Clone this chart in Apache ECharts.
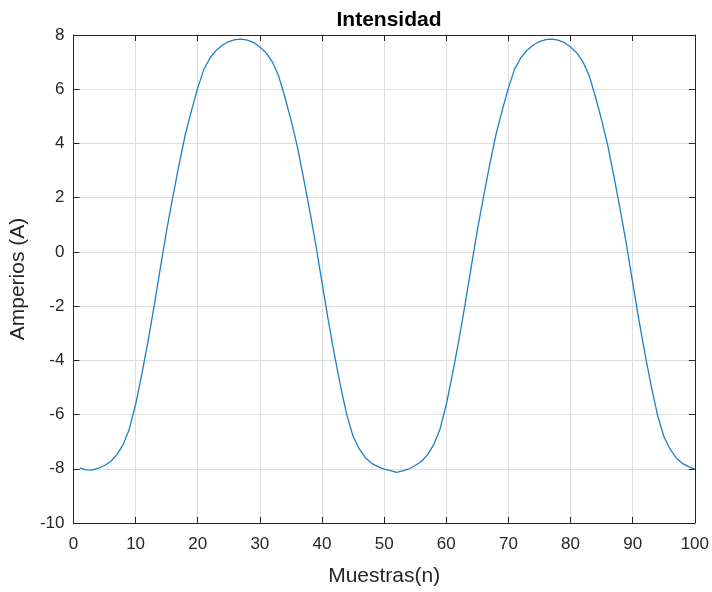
<!DOCTYPE html>
<html>
<head>
<meta charset="utf-8">
<title>Intensidad</title>
<script src="https://cdn.jsdelivr.net/npm/echarts@6/dist/echarts.min.js"></script>
<style>
  html, body { margin: 0; padding: 0; background: #fff; }
  #chart { width: 712px; height: 592px; }
</style>
</head>
<body>
<div id="chart"></div>
<script>
// muestras n = 1..100
const muestras = [
  1, 2, 3, 4, 5, 6, 7, 8, 9, 10, 11, 12, 13, 14, 15, 16, 17, 18, 19, 20,
  21, 22, 23, 24, 25, 26, 27, 28, 29, 30, 31, 32, 33, 34, 35, 36, 37, 38, 39, 40,
  41, 42, 43, 44, 45, 46, 47, 48, 49, 50, 51, 52, 53, 54, 55, 56, 57, 58, 59, 60,
  61, 62, 63, 64, 65, 66, 67, 68, 69, 70, 71, 72, 73, 74, 75, 76, 77, 78, 79, 80,
  81, 82, 83, 84, 85, 86, 87, 88, 89, 90, 91, 92, 93, 94, 95, 96, 97, 98, 99, 100
];
// corriente en amperios
const amperios = [
  -7.97, -8.04, -8.05, -7.98, -7.88, -7.73, -7.48, -7.10, -6.53, -5.63,
  -4.51, -3.29, -1.97, -0.57, 0.80, 2.04, 3.23, 4.33, 5.22, 6.05,
  6.74, 7.16, 7.44, 7.63, 7.76, 7.83, 7.85, 7.81, 7.72, 7.56,
  7.34, 7.01, 6.50, 5.73, 4.87, 3.92, 2.76, 1.55, 0.27, -1.13,
  -2.51, -3.79, -4.97, -6.02, -6.80, -7.27, -7.60, -7.80, -7.92, -8.01,
  -8.07, -8.13, -8.08, -8.00, -7.88, -7.73, -7.48, -7.10, -6.53, -5.63,
  -4.51, -3.29, -1.97, -0.57, 0.80, 2.04, 3.23, 4.33, 5.22, 6.05,
  6.74, 7.16, 7.44, 7.63, 7.76, 7.83, 7.85, 7.81, 7.72, 7.56,
  7.34, 7.01, 6.50, 5.73, 4.87, 3.92, 2.76, 1.55, 0.27, -1.13,
  -2.51, -3.79, -4.97, -6.02, -6.80, -7.27, -7.60, -7.80, -7.92, -8.01
];
const xRange = [0, 100, 10];
const yRange = [-10, 8, 2];

const font = "'Liberation Sans', Arial, sans-serif";
const ink = "#262626";

// estilo comun de los ejes (caja tipo matlab)
const axisLine = { show: true, onZero: false, lineStyle: { color: ink, width: 1 } };
const axisTick = { show: true, inside: true, length: 6, lineStyle: { color: ink } };
const splitLine = { show: true, lineStyle: { color: "#dedede", width: 1 } };

const chart = echarts.init(document.getElementById("chart"));
chart.setOption({
  animation: false,
  backgroundColor: "#fff",
  title: {
    text: "Intensidad",
    left: 384,
    top: 5,
    textAlign: "center",
    textStyle: { fontFamily: font, fontSize: 21, fontWeight: "bold", color: "#000" }
  },
  grid: { left: 72, right: 17, top: 35, bottom: 67 },
  xAxis: [
    {
      type: "value",
      min: xRange[0], max: xRange[1], interval: xRange[2],
      name: "Muestras(n)",
      nameLocation: "middle",
      nameGap: 43,
      nameTextStyle: { fontFamily: font, fontSize: 21, color: ink },
      axisLine, axisTick, splitLine,
      axisLabel: { fontFamily: font, fontSize: 17, color: ink, margin: 13 }
    },
    {
      type: "value", position: "top",
      min: xRange[0], max: xRange[1], interval: xRange[2],
      axisLine, axisTick,
      splitLine: { show: false },
      axisLabel: { show: false }
    }
  ],
  yAxis: [
    {
      type: "value",
      min: yRange[0], max: yRange[1], interval: yRange[2],
      name: "Amperios (A)",
      nameLocation: "middle",
      nameGap: 38,
      nameTextStyle: { fontFamily: font, fontSize: 21, color: ink },
      axisLine, axisTick, splitLine,
      axisLabel: { fontFamily: font, fontSize: 17, color: ink, margin: 9 }
    },
    {
      type: "value", position: "right",
      min: yRange[0], max: yRange[1], interval: yRange[2],
      axisLine, axisTick,
      splitLine: { show: false },
      axisLabel: { show: false }
    }
  ],
  series: [
    {
      name: "Intensidad",
      type: "line",
      xAxisIndex: 0,
      yAxisIndex: 0,
      showSymbol: false,
      smooth: false,
      data: muestras.map((n, i) => [n, amperios[i]]),
      lineStyle: { color: "#1a7fc8", width: 1.3 },
      itemStyle: { color: "#1a7fc8" }
    }
  ]
});
</script>
</body>
</html>
